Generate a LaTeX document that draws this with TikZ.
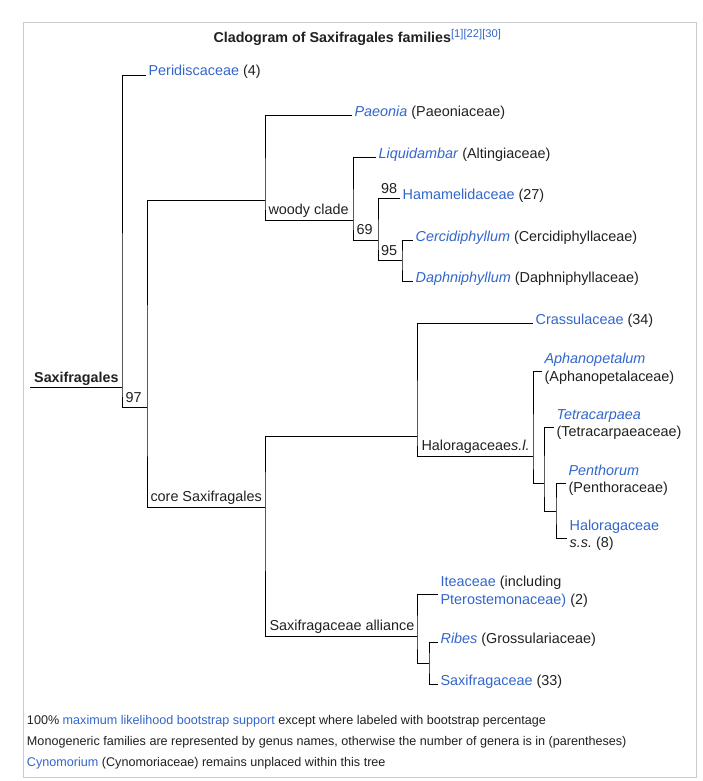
\documentclass[tikz,border=0pt]{standalone}
\usepackage{fontspec}
\setmainfont{Liberation Sans}
\frenchspacing
\definecolor{linkblue}{HTML}{3366CC}
\definecolor{txt}{HTML}{202122}
\definecolor{frame}{HTML}{C8CCD1}
\newcommand{\lk}[1]{\textcolor{linkblue}{#1}}
\newcommand{\lki}[1]{\textcolor{linkblue}{\textit{#1}}}
\begin{document}
\begin{tikzpicture}[x=1pt,y=-1pt,
  every node/.style={inner sep=0pt, outer sep=0pt, text=txt},
  treefont/.style={font=\fontsize{14.4}{17}\selectfont},
  leaf/.style={treefont, anchor=base west, inner xsep=2.6pt},
  cladelbl/.style={treefont, anchor=base west},
  bootlbl/.style={treefont, anchor=base west},
  foot/.style={font=\fontsize{12.6}{14}\selectfont, anchor=base west},
  branch/.style={draw=black, line width=1pt}]
\useasboundingbox (0,0) rectangle (702,781);
\fill[white] (0,0) rectangle (702,781);
\draw[frame, line width=1pt] (23.5,22.5) rectangle (696.5,777.5);

% title
\node[font=\fontsize{14.3}{17}\selectfont\bfseries, anchor=base west] (title) at (213.5,42.5)
  {Cladogram of Saxifragales families\textsuperscript{\normalfont\fontsize{11.2}{12}\selectfont\lk{[1][22][30]}}};

% joints and line ends
\coordinate (rootS) at (30,387);
\coordinate (R) at (122,387);
\coordinate (B) at (147,407);
\coordinate (W) at (265,200);
\coordinate (C) at (265,507);
\coordinate (W2) at (353,220);
\coordinate (W3) at (378,240);
\coordinate (W4) at (402,260);
\coordinate (H) at (417,436);
\coordinate (S) at (417,636);
\coordinate (H2) at (533,456);
\coordinate (H3) at (544,483);
\coordinate (H4) at (556,511);
\coordinate (S2) at (429,663);

\coordinate (periE) at (146,75.5);
\coordinate (paeE) at (352,116);
\coordinate (liqE) at (376,157);
\coordinate (hamE) at (400,198);
\coordinate (cerE) at (413,240);
\coordinate (dapE) at (413,281);
\coordinate (craE) at (533,323);
\coordinate (aphE) at (542,371);
\coordinate (tetE) at (554,427);
\coordinate (penE) at (566,483);
\coordinate (halE) at (567,538);
\coordinate (iteE) at (438,594);
\coordinate (ribE) at (438,642);
\coordinate (saxE) at (438,684);

% branches
\draw[branch] (rootS) -- (R);
\draw[branch] (periE) -| (R) |- (B);
\draw[branch] (W) -| (B) |- (C);
\draw[branch] (paeE) -| (W) |- (W2);
\draw[branch] (liqE) -| (W2) |- (W3);
\draw[branch] (hamE) -| (W3) |- (W4);
\draw[branch] (cerE) -| (W4) |- (dapE);
\draw[branch] (H) -| (C) |- (S);
\draw[branch] (craE) -| (H) |- (H2);
\draw[branch] (aphE) -| (H2) |- (H3);
\draw[branch] (tetE) -| (H3) |- (H4);
\draw[branch] (penE) -| (H4) |- (halE);
\draw[branch] (iteE) -| (S) |- (S2);
\draw[branch] (ribE) -| (S2) |- (saxE);

% clade labels
\node[treefont, font=\fontsize{14.3}{17}\selectfont\bfseries, anchor=base east] (saxlbl) at (118.5,382) {Saxifragales};
\node[bootlbl] (b97) at (125.5,402) {97};
\node[cladelbl] (woody) at (268.5,214.5) {woody clade};
\node[bootlbl] (b69) at (356.5,234.5) {69};
\node[bootlbl] (b98) at (381,193) {98};
\node[bootlbl] (b95) at (381,255) {95};
\node[cladelbl] (core) at (150.5,501.5) {core Saxifragales};
\node[cladelbl] (halsl) at (421.5,450.5) {Haloragaceae\textit{s.l.}};
\node[cladelbl] (alli) at (269.5,630.5) {Saxifragaceae alliance};

% leaves
\node[leaf] (peri) at ([yshift=-0.5pt]periE) {\lk{Peridiscaceae} (4)};
\node[leaf] (pae) at ([yshift=-1pt]paeE) {\lki{Paeonia} (Paeoniaceae)};
\node[leaf] (liq) at ([yshift=-1pt]liqE) {\lki{Liquidambar} (Altingiaceae)};
\node[leaf] (ham) at ([yshift=-1pt]hamE) {\lk{Hamamelidaceae} (27)};
\node[leaf] (cer) at ([yshift=-1pt]cerE) {\lki{Cercidiphyllum} (Cercidiphyllaceae)};
\node[leaf] (dap) at ([yshift=-1pt]dapE) {\lki{Daphniphyllum} (Daphniphyllaceae)};
\node[leaf] (cra) at ([yshift=-1pt]craE) {\lk{Crassulaceae} (34)};

\node[leaf] (aph) at ([yshift=7.5pt]aphE) {\lki{Aphanopetalum}};
\node[leaf] (aph2) at ([yshift=-10pt]aphE) {(Aphanopetalaceae)};
\node[leaf] (tet) at ([yshift=8pt]tetE) {\lki{Tetracarpaea}};
\node[leaf] (tet2) at ([yshift=-9.5pt]tetE) {(Tetracarpaeaceae)};
\node[leaf] (pen) at ([yshift=8pt]penE) {\lki{Penthorum}};
\node[leaf] (pen2) at ([yshift=-9.5pt]penE) {(Penthoraceae)};
\node[leaf] (hal) at ([yshift=8pt]halE) {\lk{Haloragaceae}};
\node[leaf] (hal2) at ([yshift=-9.5pt]halE) {\textit{s.s.} (8)};
\node[leaf] (ite) at ([yshift=7.5pt]iteE) {\lk{Iteaceae} (including};
\node[leaf] (ite2) at ([yshift=-10pt]iteE) {\lk{Pterostemonaceae)} (2)};
\node[leaf] (rib) at ([yshift=-1pt]ribE) {\lki{Ribes} (Grossulariaceae)};
\node[leaf] (sax) at ([yshift=-1pt]saxE) {\lk{Saxifragaceae} (33)};

% footnotes
\node[foot] (f1) at (27,724.5) {100\% \lk{maximum likelihood bootstrap support} except where labeled with bootstrap percentage};
\node[foot] (f2) at (27,745.5) {Monogeneric families are represented by genus names, otherwise the number of genera is in (parentheses)};
\node[foot] (f3) at (27,766.5) {\lk{Cynomorium} (Cynomoriaceae) remains unplaced within this tree};
\end{tikzpicture}
\end{document}
